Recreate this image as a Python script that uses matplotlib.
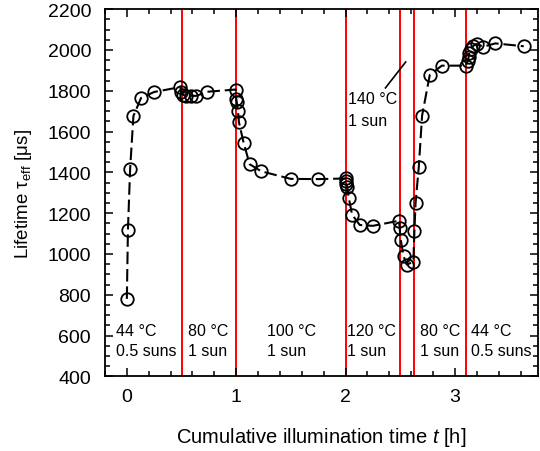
import matplotlib
matplotlib.use("Agg")
import matplotlib.pyplot as plt
from matplotlib.ticker import MultipleLocator

plt.rcParams['font.family'] = ['Liberation Sans', 'DejaVu Sans']
plt.rcParams['mathtext.fontset'] = 'custom'
plt.rcParams['mathtext.rm'] = 'Liberation Sans'
plt.rcParams['mathtext.it'] = 'Liberation Sans:italic'
plt.rcParams['lines.scale_dashes'] = False

# Cumulative illumination time [h]
t_h = [0.0, 0.01, 0.03, 0.06, 0.13, 0.25, 0.49,
       0.495, 0.51, 0.545, 0.585, 0.635, 0.735, 0.995,
       1.0, 1.005, 1.016, 1.025, 1.068, 1.123, 1.23, 1.5, 1.75, 2.0,
       2.0, 2.005, 2.015, 2.03, 2.06, 2.13, 2.25, 2.49,
       2.495, 2.505, 2.53, 2.56,
       2.62, 2.63, 2.64, 2.67, 2.70, 2.77, 2.88, 3.1,
       3.12, 3.125, 3.13, 3.15, 3.17, 3.2, 3.26, 3.37, 3.63]
# Effective lifetime [us]
tau_us = [780, 1120, 1417, 1676, 1765, 1794, 1818,
          1793, 1781, 1773, 1775, 1775, 1795, 1806,
          1760, 1745, 1702, 1646, 1545, 1440, 1405, 1368, 1367, 1370,
          1360, 1345, 1330, 1273, 1193, 1142, 1138, 1163,
          1125, 1069, 990, 948,
          962, 1114, 1248, 1428, 1678, 1877, 1923, 1923,
          1948, 1964, 1983, 2005, 2021, 2029, 2016, 2032, 2018]

# Boundaries between conditions [h]
boundaries = [0.5, 1.0, 2.0, 2.5, 2.63, 3.1]

# Condition labels: (x start, temperature, illumination)
cond_x = [-0.1, 0.557, 1.28, 2.01, 2.68, 3.15]
cond_temp = ["44 °C", "80 °C", "100 °C", "120 °C", "80 °C", "44 °C"]
cond_sun = ["0.5 suns", "1 sun", "1 sun", "1 sun", "1 sun", "0.5 suns"]

fig = plt.figure(figsize=(5.4, 4.52), dpi=100)
ax = fig.add_axes([0.1944, 0.165, 0.8019, 0.8126])

for b in boundaries:
    ax.axvline(b, color='#ff0000', lw=1.4, zorder=1)

line, = ax.plot(t_h, tau_us, color='black', lw=1.5, marker='o', ms=9,
                mfc='none', mec='black', mew=1.3, zorder=3)
line.set_dashes([9, 3.5])

for x, tt, ss in zip(cond_x, cond_temp, cond_sun):
    ax.text(x, 623, tt, fontsize=11.5, ha='left', va='center')
    ax.text(x, 525, ss, fontsize=11.5, ha='left', va='center')

ax.text(2.02, 1760, "140 °C", fontsize=11.5, ha='left', va='center')
ax.text(2.02, 1656, "1 sun", fontsize=11.5, ha='left', va='center')
ax.plot([2.365, 2.55], [1814, 1941], color='black', lw=1.2)

ax.set_xlim(-0.2, 3.76)
ax.set_ylim(400, 2200)
ax.xaxis.set_major_locator(MultipleLocator(1))
ax.xaxis.set_minor_locator(MultipleLocator(0.2))
ax.yaxis.set_major_locator(MultipleLocator(200))
ax.yaxis.set_minor_locator(MultipleLocator(50))
ax.tick_params(which='both', direction='in', top=True, right=True,
               labelsize=14, width=1.1)
ax.tick_params(which='major', length=6)
ax.tick_params(which='minor', length=3.5)
ax.tick_params(axis='y', pad=10)
ax.tick_params(axis='x', pad=8)
for s in ax.spines.values():
    s.set_linewidth(1.3)

ax.set_xlabel(r"Cumulative illumination time $\mathit{t}$ [h]", fontsize=14.5, labelpad=15)
ax.set_ylabel(r"Lifetime τ$_{\mathregular{eff}}$ [μs]", fontsize=13.5, labelpad=10)

fig.savefig("out.png", dpi=100)
